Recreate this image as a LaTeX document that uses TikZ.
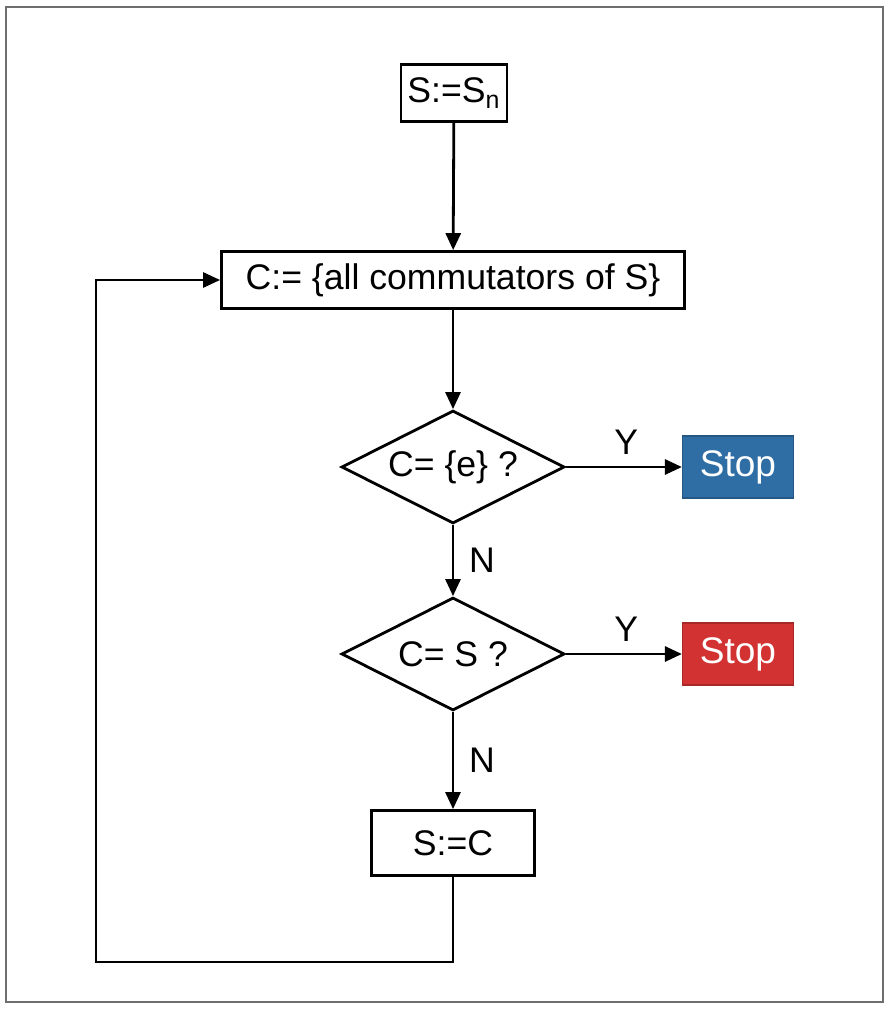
\documentclass[tikz,border=0pt]{standalone}
\usepackage{fontspec}
\setmainfont{Liberation Sans}
\usetikzlibrary{shapes.geometric,arrows.meta}
\definecolor{stopblue}{RGB}{46,110,165}
\definecolor{stopred}{RGB}{210,50,50}
\definecolor{framegray}{RGB}{110,110,110}
\begin{document}
\begin{tikzpicture}[
  x=0.5pt, y=-0.5pt,
  font=\fontsize{17.8}{22}\selectfont,
  box/.style={rectangle, draw, line width=1.4pt, inner sep=0pt},
  test/.style={diamond, draw, line width=1.4pt, inner sep=0pt, aspect=2,
    minimum width=111.5pt, minimum height=56.5pt},
  stopbox/.style={rectangle, draw=#1!80!black, fill=#1, text=white, line width=0.6pt,
    inner sep=0pt, minimum width=55.5pt, minimum height=31pt,
    font=\fontsize{18.5}{22}\selectfont},
  e/.style={line width=1.4pt},
  a/.style={e, -{Triangle[length=8.5pt,width=7.5pt]}}
]
\useasboundingbox (0,0) rectangle (889,1012);
\draw[framegray, line width=1pt] (6,7) rectangle (883,1002);

% --- main column ---
\node[box, minimum width=53pt, minimum height=28.5pt] (init) at (454,93) {S:=S\textsubscript{n}};
\node[box, minimum width=231.5pt, minimum height=28.5pt] (comm) at (453,280) {C:= \{all commutators of S\}};
\node[test] (trivial) at (453,467) {C= \{e\} ?};
\node[test] (same) at (453,654) {C= S ?};
\node[box, minimum width=81.5pt, minimum height=32.5pt] (upd) at (453,843) {S:=C};

% --- stop boxes ---
\node[stopbox=stopblue] (stop1) at (738,467) {Stop};
\node[stopbox=stopred] (stop2) at (738,654) {Stop};

% --- arrows ---
\draw[a] (init) -- (comm);
\draw[a] (comm) -- (trivial);
\draw[a] (trivial) -- node[right=4pt] {N} (same);
\draw[a] (same) -- node[right=4pt] {N} (upd);
\draw[a] (trivial) -- node[above=2pt, pos=0.52] {Y} (stop1);
\draw[a] (same) -- node[above=2pt, pos=0.52] {Y} (stop2);

% --- loop back ---
\coordinate (low) at (96,962);
\draw[a] (upd.south) |- (low) |- (comm.west);

\end{tikzpicture}
\end{document}
